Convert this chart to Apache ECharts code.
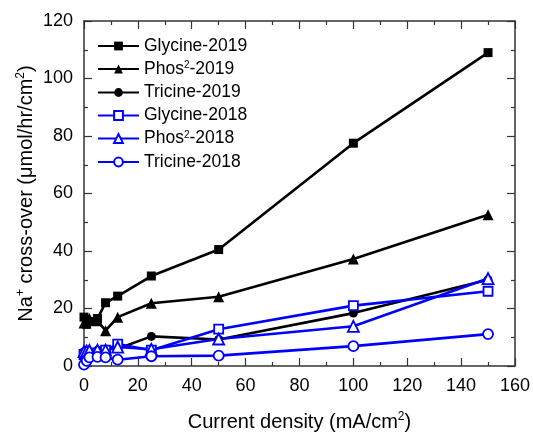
<!DOCTYPE html>
<html><head><meta charset="utf-8">
<script src="https://cdn.jsdelivr.net/npm/echarts@6/dist/echarts.min.js"></script>
<style>html,body{margin:0;padding:0;background:#fff}#c{width:533px;height:437px}</style>
</head><body><div id="c"></div>
<script>
var currentDensity = [0, 1, 2, 5, 8, 12.5, 25, 50, 100, 150];
var glycine2019 = [17, 14.5, 15.5, 16.5, 22, 24.3, 31.3, 40.5, 77.5, 109];
var phos2019 = [15, 16, 16.5, 15.7, 12.3, 17, 21.8, 24.1, 37.2, 52.6];
var tricine2019 = [5, 5.5, 5, 5.5, 5.8, 6, 10.3, 9.2, 18.4, 30];
var glycine2018 = [4, 3.5, 4.5, 4.5, 5.5, 7.6, 5.5, 12.8, 21, 26];
var phos2018 = [5, 5.2, 5.4, 5.5, 5.5, 6.6, 5.8, 9.4, 13.8, 30.4];
var tricine2018 = [0.5, 1.8, 3, 3.2, 3, 2.2, 3.4, 3.6, 6.9, 11.1];
var seriesNames = ['Glycine-2019', 'Phos2-2019', 'Tricine-2019', 'Glycine-2018', 'Phos2-2018', 'Tricine-2018'];
var xTicks = [0, 20, 40, 60, 80, 100, 120, 140, 160];
var yTicks = [0, 20, 40, 60, 80, 100, 120];

function pairs(ys){ return currentDensity.map(function(x,i){return [x, ys[i]];}); }
var FONT = 'Liberation Sans, Arial, sans-serif';
var BLUE = '#0000ff';
function mk(name, data, sym, size, color, open){
  return {
    name: name, type: 'line', data: pairs(data), symbol: sym, symbolSize: size,
    showSymbol: true,
    lineStyle: {color: color, width: 2.6},
    itemStyle: {color: open ? '#fff' : color, borderColor: color, borderWidth: open ? 1.8 : 0},
    emphasis: {disabled: true}
  };
}
function axisCommon(){
  return {
    axisLine: {show: true, onZero: false, lineStyle: {color: '#333', width: 1.5}},
    axisTick: {show: true, inside: true, length: 8, lineStyle: {color: '#333', width: 1.2}},
    minorTick: {show: true, splitNumber: 2, length: 4, lineStyle: {color: '#333', width: 1.2}},
    splitLine: {show: false}
  };
}
var chart = echarts.init(document.getElementById('c'), null, {renderer: 'canvas'});
chart.setOption({
  animation: false,
  backgroundColor: '#fff',
  textStyle: {fontFamily: FONT},
  grid: {left: 84, right: 16, top: 21, bottom: 70},
  legend: {
    orient: 'vertical', left: 97, top: 37, padding: 0,
    itemWidth: 41, itemHeight: 11, itemGap: 5,
    data: seriesNames,
    formatter: function(n){ return n.replace('Phos2', 'Phos{sup|2}'); },
    textStyle: {fontFamily: FONT, fontSize: 17.5, color: '#000', lineHeight: 17,
      rich: {sup: {fontSize: 10, verticalAlign: 'top', lineHeight: 10, padding: [0,0,8,0], fontFamily: FONT, color: '#000'}}}
  },
  xAxis: [
    Object.assign({
      type: 'value', min: 0, max: 160, interval: 20, position: 'bottom',
      name: 'Current density (mA/cm{sup|2})', nameLocation: 'middle', nameGap: 45,
      nameTextStyle: {fontSize: 20, color: '#000', fontFamily: FONT,
        rich: {sup: {fontSize: 12, verticalAlign: 'top', padding: [0,0,10,0], fontFamily: FONT, color: '#000'}}},
      axisLabel: {fontSize: 18, color: '#000', margin: 11, fontFamily: FONT}
    }, axisCommon()),
    Object.assign({
      type: 'value', min: 0, max: 160, interval: 20, position: 'top',
      axisLabel: {show: false}
    }, axisCommon())
  ],
  yAxis: [
    Object.assign({
      type: 'value', min: 0, max: 120, interval: 20, position: 'left',
      name: 'Na{sup|+} cross-over (\u03bcmol/hr/cm{sup|2})', nameLocation: 'middle', nameGap: 47, nameRotate: 90,
      nameMoveOverlap: false,
      nameTextStyle: {fontSize: 20, color: '#000', fontFamily: FONT,
        rich: {sup: {fontSize: 12, verticalAlign: 'top', padding: [0,0,10,0], fontFamily: FONT, color: '#000'}}},
      axisLabel: {fontSize: 18, color: '#000', margin: 11, fontFamily: FONT}
    }, axisCommon()),
    Object.assign({
      type: 'value', min: 0, max: 120, interval: 20, position: 'right',
      axisLabel: {show: false}
    }, axisCommon())
  ],
  series: [
    mk(seriesNames[0], glycine2019, 'rect', 9, '#000', false),
    mk(seriesNames[1], phos2019, 'triangle', 11, '#000', false),
    mk(seriesNames[2], tricine2019, 'circle', 9, '#000', false),
    mk(seriesNames[3], glycine2018, 'rect', 9, BLUE, true),
    mk(seriesNames[4], phos2018, 'triangle', 11, BLUE, true),
    mk(seriesNames[5], tricine2018, 'circle', 10, BLUE, true)
  ]
});
</script></body></html>
